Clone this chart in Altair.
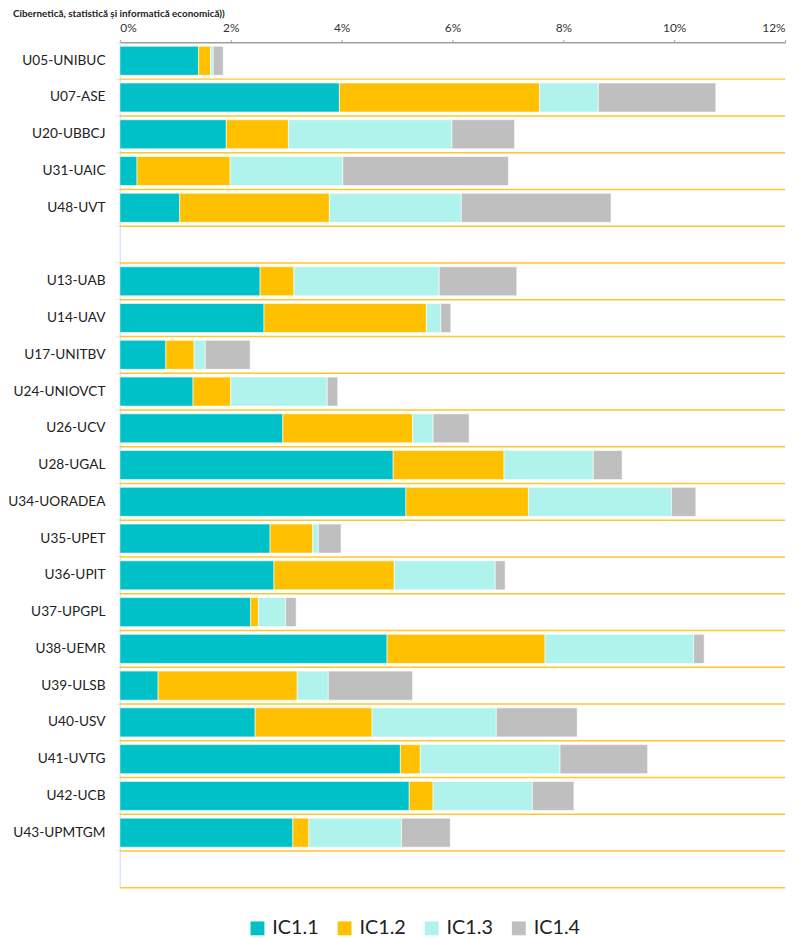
import altair as alt
import pandas as pd

categories = ["U05-UNIBUC", "U07-ASE", "U20-UBBCJ", "U31-UAIC", "U48-UVT", " ",
              "U13-UAB", "U14-UAV", "U17-UNITBV", "U24-UNIOVCT", "U26-UCV", "U28-UGAL",
              "U34-UORADEA", "U35-UPET", "U36-UPIT", "U37-UPGPL", "U38-UEMR", "U39-ULSB",
              "U40-USV", "U41-UVTG", "U42-UCB", "U43-UPMTGM", "  "]

universities = ["U05-UNIBUC", "U07-ASE", "U20-UBBCJ", "U31-UAIC", "U48-UVT",
                "U13-UAB", "U14-UAV", "U17-UNITBV", "U24-UNIOVCT", "U26-UCV", "U28-UGAL",
                "U34-UORADEA", "U35-UPET", "U36-UPIT", "U37-UPGPL", "U38-UEMR", "U39-ULSB",
                "U40-USV", "U41-UVTG", "U42-UCB", "U43-UPMTGM"]

ic11 = [1.42, 3.96, 1.92, 0.31, 1.08, 2.53, 2.60, 0.83, 1.32, 2.94, 4.93,
        5.16, 2.71, 2.78, 2.36, 4.82, 0.69, 2.44, 5.06, 5.22, 3.12]
ic12 = [0.215, 3.61, 1.12, 1.68, 2.70, 0.61, 2.93, 0.51, 0.68, 2.34, 2.00,
        2.21, 0.77, 2.17, 0.14, 2.85, 2.51, 2.11, 0.36, 0.43, 0.29]
ic13 = [0.05, 1.06, 2.95, 2.03, 2.38, 2.62, 0.26, 0.20, 1.74, 0.37, 1.61,
        2.58, 0.10, 1.82, 0.49, 2.68, 0.56, 2.24, 2.52, 1.79, 1.67]
ic14 = [0.18, 2.12, 1.13, 2.99, 2.70, 1.40, 0.18, 0.81, 0.19, 0.65, 0.52,
        0.44, 0.41, 0.18, 0.19, 0.19, 1.52, 1.46, 1.58, 0.75, 0.88]

series = ["IC1.1", "IC1.2", "IC1.3", "IC1.4"]
colors = ["#00C0C8", "#FFC000", "#AFF3EC", "#BFBFBF"]
tick_values = [0, 2, 4, 6, 8, 10, 12]
title_text = "Cibernetică, statistică și informatică economică))"

rows = []
for i, u in enumerate(universities):
    for k, vals in enumerate([ic11, ic12, ic13, ic14]):
        rows.append({"u": u, "s": series[k], "v": vals[i], "o": k})
df = pd.DataFrame(rows)
sep = pd.DataFrame({"u": categories})

gold = "#FFC72C"
yscale = alt.Scale(domain=categories, paddingInner=0, paddingOuter=0)
yaxis = alt.Axis(bandPosition=0, grid=False, labelFontSize=13.8, labelColor="#222222",
                 domainColor="#DAE8F5", domainWidth=1.5, tickColor="#DAE8F5",
                 tickSize=4, labelPadding=11, title=None)

rules = alt.Chart(sep).mark_rule(color=gold, strokeWidth=1.5).encode(
    y=alt.Y("u:N", scale=yscale, bandPosition=1, axis=yaxis)
)

bars = alt.Chart(df).mark_bar(height={"band": 0.79}, stroke="white", strokeWidth=0.6).encode(
    x=alt.X("v:Q", stack="zero", scale=alt.Scale(domain=[0, 12], nice=False),
            axis=alt.Axis(orient="top", values=tick_values, labelExpr="datum.value + '%'",
                          grid=False, title=None, labelFontSize=12, labelColor="#333333",
                          domainColor="#A0A0A0", domainWidth=1.5, tickColor="#A0A0A0",
                          tickSize=3, labelPadding=5)),
    y=alt.Y("u:N", scale=yscale, axis=yaxis),
    color=alt.Color("s:N", scale=alt.Scale(domain=series, range=colors),
                    legend=alt.Legend(title=None, orient="none", legendX=129, legendY=885,
                                      direction="horizontal", columns=4, symbolType="square",
                                      symbolSize=196, symbolStrokeWidth=0, labelFontSize=20,
                                      labelColor="#222222", labelOffset=5, columnPadding=16)),
    order=alt.Order("o:Q"),
)

chart = alt.layer(rules, bars).properties(
    width=672, height=854,
    autosize=alt.AutoSizeParams(type="none"),
    padding={"left": 113, "top": 30, "right": 11, "bottom": 46},
    title=alt.TitleParams(text=title_text, anchor="start", frame="group", dx=-108, offset=3,
                          fontSize=10, fontWeight="bold", color="#222222"),
).configure(font="Lato").configure_view(stroke=None)

chart.save("out.html", embed_options={"renderer": "svg", "actions": False})
